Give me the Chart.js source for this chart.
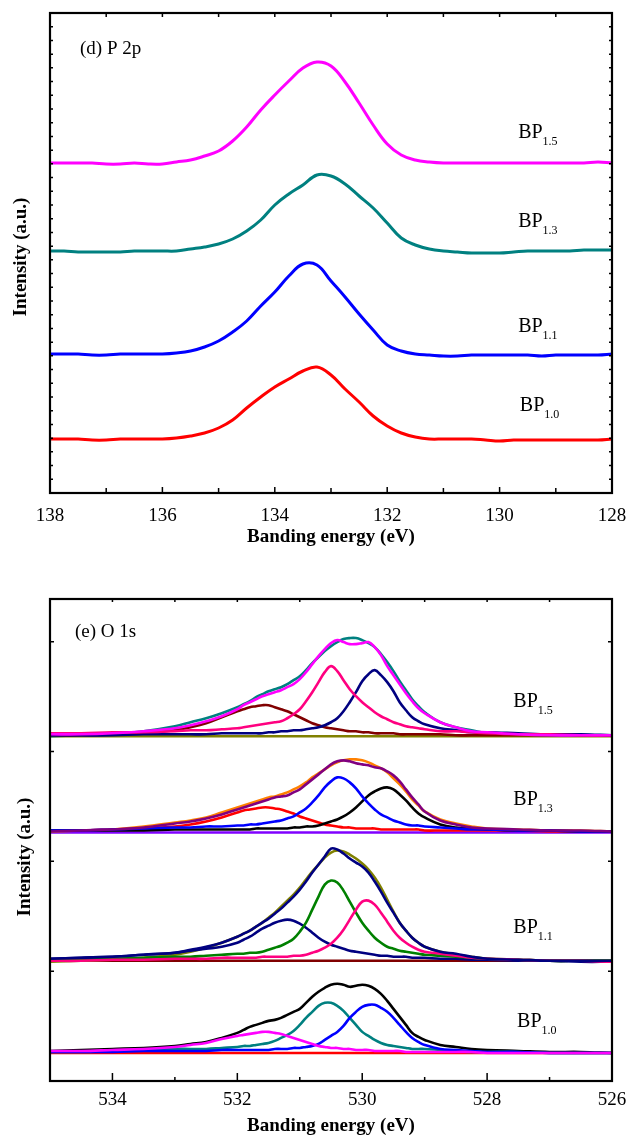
<!DOCTYPE html>
<html>
<head>
<meta charset="utf-8">
<title>XPS P 2p / O 1s</title>
<script src="https://cdn.jsdelivr.net/npm/chart.js@4.4.0/dist/chart.umd.min.js"></script>
<style>
  html, body { margin: 0; padding: 0; background: #fff; }
  #wrap { position: relative; width: 628px; height: 1135px; overflow: hidden; }
  canvas { position: absolute; left: 0; }
</style>
</head>
<body>
<div id="wrap">
  <canvas id="p2p" width="628" height="560" style="top:0"></canvas>
  <canvas id="o1s" width="628" height="575" style="top:560px"></canvas>
</div>
<script>
// ---- (d) P 2p : binding energy (eV) and stacked intensities (a.u.) ----
const energyP = [138, 137.75, 137.5, 137.25, 137, 136.75, 136.5, 136.25, 136, 135.75,
  135.5, 135.25, 135, 134.75, 134.5, 134.25, 134, 133.75, 133.5, 133.25,
  133, 132.75, 132.5, 132.25, 132, 131.75, 131.5, 131.25, 131, 130.75,
  130.5, 130.25, 130, 129.75, 129.5, 129.25, 129, 128.75, 128.5, 128.25, 128];

const p2pBP15 = [330, 330, 330, 330, 329, 329, 330, 329, 329, 331,
  333, 337, 342, 352, 366, 383, 398, 412, 425, 431,
  427, 411, 390, 368, 349, 338, 333, 331, 330, 330,
  330, 330, 330, 330, 330, 330, 330, 330, 330, 331, 330];
const p2pBP13 = [242, 242, 241, 241, 241, 241, 242, 242, 242, 242,
  244, 246, 249, 254, 262, 273, 288, 299, 308, 318,
  317, 309, 297, 285, 270, 255, 248, 244, 242, 241,
  240, 240, 240, 241, 242, 242, 242, 242, 243, 243, 243];
const p2pBP11 = [139, 139, 139, 138, 138, 139, 139, 139, 139, 140,
  142, 146, 152, 161, 172, 187, 201, 217, 229, 228,
  212, 196, 179, 163, 148, 142, 139, 138, 137, 137,
  138, 138, 138, 138, 138, 137, 138, 138, 138, 138, 139];
const p2pBP10 = [54, 54, 54, 53, 53, 54, 54, 54, 54, 55,
  57, 60, 65, 73, 85, 96, 106, 114, 122, 126,
  118, 104, 91, 77, 67, 60, 56, 54, 54, 54,
  54, 53, 52, 53, 53, 53, 53, 53, 53, 53, 54];

// ---- (e) O 1s : raw, fitted envelope, components, background ----
const energyO = [535, 534.5, 534, 533.5, 533, 532.75, 532.5, 532.25, 532,
  531.9, 531.8, 531.7, 531.6, 531.5, 531.4, 531.3, 531.2, 531.1, 531,
  530.9, 530.8, 530.7, 530.6, 530.5, 530.4, 530.3, 530.2, 530.1, 530,
  529.9, 529.8, 529.7, 529.6, 529.5, 529.4, 529.3, 529.2, 529.1, 529,
  528.75, 528.5, 528.25, 528, 527.5, 527, 526.5, 526];
const energyBg = [535, 526];

// BP1.5
const o15Raw = [344, 345, 346, 349, 354, 358, 362, 367, 373,
  376, 379, 383, 386, 389, 391, 393, 396, 400, 404,
  410, 417, 423, 429, 434, 438, 441, 442, 442, 440,
  437, 433, 426, 418, 409, 399, 390, 381, 374, 368,
  358, 353, 350, 347, 346, 345, 345, 345];
const o15Fit = [346, 346, 347, 349, 352, 355, 359, 364, 371,
  375, 378, 381, 384, 386, 388, 390, 393, 396, 401,
  408, 416, 424, 431, 437, 440, 438, 436, 436, 437,
  438, 433, 425, 414, 405, 396, 387, 379, 372, 367,
  358, 353, 349, 348, 346, 345, 345, 345];
const o15PeakA = [347, 347, 348, 348, 349, 350, 350, 351, 352,
  353, 354, 355, 356, 357, 358, 359, 362, 366, 371,
  379, 388, 398, 408, 414, 409, 400, 391, 384, 378,
  373, 368, 364, 361, 358, 356, 354, 353, 352, 351,
  349, 349, 348, 347, 346, 346, 345, 345];
const o15PeakB = [345, 345, 345, 346, 346, 346, 346, 347, 347,
  347, 347, 347, 347, 348, 348, 349, 349, 350, 350,
  351, 352, 353, 355, 358, 362, 369, 378, 388, 399,
  406, 410, 405, 398, 389, 378, 370, 363, 359, 356,
  352, 350, 348, 348, 347, 346, 346, 345];
const o15PeakC = [345, 345, 346, 347, 350, 353, 357, 363, 369,
  371, 373, 374, 375, 375, 373, 371, 369, 366, 363,
  360, 357, 355, 353, 352, 351, 350, 349, 349, 348,
  348, 347, 347, 347, 347, 346, 346, 346, 346, 346,
  346, 345, 345, 345, 345, 345, 345, 345];
const o15Bg = [344, 344];

// BP1.3
const o13Raw = [249, 250, 251, 254, 258, 260, 263, 268, 273,
  275, 277, 279, 281, 283, 284, 286, 288, 291, 294,
  298, 303, 307, 311, 315, 318, 320, 321, 321, 320,
  318, 315, 312, 308, 302, 296, 289, 281, 275, 269,
  261, 257, 254, 252, 251, 250, 250, 249];
const o13Fit = [249, 250, 251, 253, 257, 259, 262, 266, 271,
  273, 275, 277, 279, 281, 283, 284, 285, 288, 291,
  296, 301, 306, 311, 316, 319, 320, 319, 317, 316,
  315, 313, 312, 309, 305, 299, 291, 283, 276, 269,
  260, 256, 253, 252, 251, 250, 250, 249];
const o13PeakA = [250, 250, 251, 252, 253, 253, 254, 254, 255,
  255, 256, 256, 257, 258, 259, 260, 262, 264, 268,
  272, 278, 285, 293, 299, 303, 302, 298, 292, 284,
  277, 271, 266, 263, 260, 258, 256, 255, 255, 254,
  253, 252, 251, 251, 250, 250, 249, 249];
const o13PeakB = [250, 250, 250, 250, 251, 251, 251, 251, 251,
  251, 251, 252, 252, 252, 252, 252, 252, 253, 253,
  254, 254, 255, 257, 259, 261, 264, 268, 273, 279,
  285, 289, 292, 293, 291, 286, 280, 273, 267, 263,
  256, 253, 252, 251, 250, 250, 249, 249];
const o13PeakC = [250, 250, 251, 252, 254, 256, 259, 263, 268,
  270, 271, 272, 273, 273, 272, 271, 269, 267, 264,
  262, 260, 258, 256, 255, 254, 253, 253, 252, 252,
  252, 252, 251, 251, 251, 251, 251, 251, 251, 250,
  250, 250, 250, 250, 250, 249, 249, 249];
const o13Bg = [248, 248];

// BP1.1
const o11Raw = [119, 120, 121, 123, 126, 129, 133, 138, 144,
  147, 150, 154, 158, 163, 168, 174, 180, 186, 193,
  201, 209, 216, 223, 228, 230, 229, 226, 222, 217,
  211, 203, 193, 181, 169, 158, 150, 143, 138, 134,
  129, 126, 124, 122, 121, 120, 120, 120];
const o11Fit = [122, 123, 124, 126, 128, 131, 134, 138, 144,
  147, 150, 154, 158, 162, 167, 172, 178, 184, 191,
  199, 208, 216, 224, 232, 231, 227, 222, 218, 214,
  208, 199, 189, 178, 168, 158, 150, 143, 138, 134,
  129, 127, 124, 122, 121, 120, 120, 120];
const o11PeakA = [121, 121, 122, 123, 124, 124, 125, 126, 127,
  127, 128, 128, 129, 131, 133, 135, 138, 142, 149,
  158, 171, 184, 196, 200, 198, 190, 179, 168, 158,
  150, 143, 138, 134, 132, 130, 129, 128, 127, 126,
  125, 124, 123, 122, 121, 120, 120, 120];
const o11PeakB = [120, 120, 121, 121, 122, 122, 122, 123, 123,
  123, 123, 123, 124, 124, 124, 124, 124, 125, 125,
  126, 128, 130, 133, 137, 143, 151, 161, 171, 179,
  180, 176, 168, 159, 150, 143, 138, 134, 131, 129,
  127, 125, 123, 122, 121, 120, 120, 119];
const o11PeakC = [122, 123, 124, 126, 128, 130, 132, 134, 138,
  141, 144, 148, 152, 155, 158, 160, 161, 160, 157,
  153, 148, 143, 139, 136, 134, 132, 130, 129, 128,
  127, 126, 125, 125, 124, 124, 124, 123, 123, 123,
  122, 122, 121, 121, 120, 120, 119, 119];
const o11Bg = [120, 120];

// BP1.0
const o10Fit = [30, 31, 32, 33, 35, 37, 39, 43, 48,
  51, 54, 56, 58, 60, 61, 63, 66, 69, 72,
  78, 84, 89, 93, 96, 97, 96, 94, 95, 96,
  95, 92, 87, 80, 72, 64, 56, 48, 44, 41,
  36, 34, 32, 31, 30, 29, 29, 28];
const o10PeakA = [29, 29, 30, 31, 32, 32, 32, 33, 34,
  35, 35, 36, 37, 38, 40, 43, 46, 50, 56,
  63, 69, 75, 78, 78, 75, 70, 63, 56, 49,
  45, 41, 38, 36, 35, 34, 33, 32, 32, 32,
  31, 30, 29, 29, 29, 28, 28, 28];
const o10PeakB = [29, 29, 29, 30, 30, 30, 30, 31, 31,
  31, 31, 31, 31, 31, 32, 32, 32, 33, 33,
  34, 35, 37, 41, 45, 49, 55, 63, 69, 74,
  76, 76, 73, 69, 63, 56, 49, 43, 39, 36,
  32, 31, 30, 29, 29, 28, 28, 28];
const o10PeakC = [30, 30, 31, 32, 34, 36, 38, 42, 45,
  46, 47, 48, 49, 49, 48, 47, 45, 43, 41,
  39, 37, 35, 34, 33, 33, 32, 32, 31, 31,
  31, 30, 30, 30, 30, 30, 29, 29, 29, 29,
  29, 29, 29, 28, 28, 28, 28, 28];
const o10Bg = [28, 28];

const sampleSubs = ['1.5', '1.3', '1.1', '1.0'];

const SERIF = '"Liberation Serif", "Times New Roman", serif';

function pts(xs, ys) {
  return xs.map((x, i) => ({ x: x, y: ys[i] }));
}

function line(xs, ys, color, width) {
  return {
    data: pts(xs, ys),
    borderColor: color,
    backgroundColor: color,
    borderWidth: width,
    pointRadius: 0,
    pointHoverRadius: 0,
    fill: false,
    tension: 0.4,
    borderJoinStyle: 'round',
    borderCapStyle: 'round'
  };
}

// frame, inward ticks and all the text of a panel
const panelDecor = {
  id: 'panelDecor',
  afterDraw(chart, args, o) {
    const ctx = chart.ctx;
    const a = chart.chartArea;
    const sx = chart.scales.x, sy = chart.scales.y;
    ctx.save();
    ctx.strokeStyle = '#000';
    ctx.lineWidth = 2.2;
    ctx.strokeRect(a.left, a.top, a.right - a.left, a.bottom - a.top);

    ctx.lineWidth = 1.5;
    ctx.beginPath();
    sx.ticks.forEach(t => {
      const px = sx.getPixelForValue(t.value);
      const len = t.value % 2 === 0 ? o.xMajor : o.xMinor;
      ctx.moveTo(px, a.bottom);
      ctx.lineTo(px, a.bottom - len);
      ctx.moveTo(px, a.top);
      ctx.lineTo(px, a.top + o.xTop);
    });
    sy.ticks.forEach(t => {
      const py = sy.getPixelForValue(t.value);
      ctx.moveTo(a.left, py);
      ctx.lineTo(a.left + o.yLen, py);
      ctx.moveTo(a.right, py);
      ctx.lineTo(a.right - o.yLen, py);
    });
    ctx.stroke();

    ctx.fillStyle = '#000';
    // panel tag
    ctx.font = '19px ' + SERIF;
    ctx.textAlign = 'left';
    ctx.textBaseline = 'alphabetic';
    ctx.fillText(o.tag, a.left + o.tagDx, a.top + o.tagDy);

    // sample labels with subscripts
    o.labels.forEach((lb, i) => {
      const px = sx.getPixelForValue(lb.x);
      const py = sy.getPixelForValue(lb.y);
      ctx.font = '20px ' + SERIF;
      ctx.fillText('BP', px, py);
      const w = ctx.measureText('BP').width;
      ctx.font = '12px ' + SERIF;
      ctx.fillText(sampleSubs[i], px + w, py + 7);
    });

    // axis titles
    ctx.font = 'bold 19px ' + SERIF;
    ctx.textAlign = 'center';
    ctx.fillText('Banding energy (eV)', (a.left + a.right) / 2, a.bottom + o.xTitleDy);
    ctx.save();
    ctx.translate(o.yTitleX, (a.top + a.bottom) / 2 + o.yTitleDy);
    ctx.rotate(-Math.PI / 2);
    ctx.textBaseline = 'middle';
    ctx.fillText('Intensity (a.u.)', 0, 0);
    ctx.restore();
    ctx.restore();
  }
};

function panelOptions(xMin, xMax, yMax, yStep, axisH, padTop, tickPad, decor) {
  return {
    responsive: false,
    animation: false,
    events: [],
    layout: { padding: { top: padTop, right: 16, left: 0, bottom: 0 } },
    plugins: {
      legend: { display: false },
      tooltip: { enabled: false },
      panelDecor: decor
    },
    scales: {
      x: {
        type: 'linear',
        min: xMin,
        max: xMax,
        reverse: true,
        afterFit: s => {
          s.height = axisH;
          // the edge labels may hang over the frame, as in the original
          s.paddingLeft = 0;
          s.paddingRight = 0;
        },
        grid: { display: false, drawTicks: false },
        border: { display: false },
        ticks: {
          stepSize: 1,
          autoSkip: false,
          maxRotation: 0,
          padding: tickPad,
          color: '#000',
          font: { family: SERIF, size: 19 },
          callback: v => (v % 2 === 0 ? v : '')
        }
      },
      y: {
        type: 'linear',
        min: 0,
        max: yMax,
        afterFit: s => {
          s.width = 50;
          s.paddingTop = 0;
          s.paddingBottom = 0;
        },
        grid: { display: false, drawTicks: false },
        border: { display: false },
        ticks: { display: false, stepSize: yStep }
      }
    }
  };
}

// ---- panel (d) ----
new Chart(document.getElementById('p2p'), {
  type: 'line',
  data: {
    datasets: [
      line(energyP, p2pBP15, '#ff00ff', 3),
      line(energyP, p2pBP13, '#008080', 3),
      line(energyP, p2pBP11, '#0000ff', 3),
      line(energyP, p2pBP10, '#ff0000', 3)
    ]
  },
  options: panelOptions(128, 138, 480, 480 / 35, 67, 13, 12, {
    tag: '(d) P 2p', tagDx: 30, tagDy: 41,
    xMajor: 6, xMinor: 5, xTop: 4, yLen: 3,
    xTitleDy: 49, yTitleX: 21, yTitleDy: 4,
    labels: [
      { x: 129.67, y: 355 },
      { x: 129.67, y: 266 },
      { x: 129.67, y: 161 },
      { x: 129.64, y: 82 }
    ]
  }),
  plugins: [panelDecor]
});

// ---- panel (e) ---- (listed bottom layer first, reversed so the last is drawn on top)
const oSets = [
  line(energyBg, o15Bg, '#808000', 2.6),
  line(energyO, o15Raw, '#008080', 2.6),
  line(energyO, o15PeakC, '#800000', 2.6),
  line(energyO, o15PeakB, '#000080', 2.6),
  line(energyO, o15PeakA, '#ff0080', 2.6),
  line(energyO, o15Fit, '#ff00ff', 2.6),

  line(energyBg, o13Bg, '#8000ff', 2.6),
  line(energyO, o13Raw, '#ff8000', 2.6),
  line(energyO, o13PeakC, '#ff0000', 2.6),
  line(energyO, o13PeakB, '#000000', 2.6),
  line(energyO, o13PeakA, '#0000ff', 2.6),
  line(energyO, o13Fit, '#800080', 2.6),

  line(energyBg, o11Bg, '#800000', 2.6),
  line(energyO, o11Raw, '#808000', 2.6),
  line(energyO, o11PeakC, '#000080', 2.6),
  line(energyO, o11PeakA, '#008000', 2.6),
  line(energyO, o11PeakB, '#ff0080', 2.6),
  line(energyO, o11Fit, '#000080', 2.6),

  line(energyBg, o10Bg, '#ff0000', 2.6),
  line(energyO, o10Fit, '#000000', 2.6),
  line(energyO, o10PeakA, '#008080', 2.6),
  line(energyO, o10PeakB, '#0000ff', 2.6),
  line(energyO, o10PeakC, '#ff00ff', 2.6)
];

new Chart(document.getElementById('o1s'), {
  type: 'line',
  data: { datasets: oSets.reverse() },
  options: panelOptions(526, 535, 481, 109.6, 54, 39, 8, {
    tag: '(e) O 1s', tagDx: 25, tagDy: 38,
    xMajor: 8, xMinor: 4, xTop: 3, yLen: 4,
    xTitleDy: 50, yTitleX: 25, yTitleDy: 17,
    labels: [
      { x: 527.58, y: 373 },
      { x: 527.58, y: 275 },
      { x: 527.58, y: 148 },
      { x: 527.52, y: 54 }
    ]
  }),
  plugins: [panelDecor]
});
</script>
</body>
</html>
